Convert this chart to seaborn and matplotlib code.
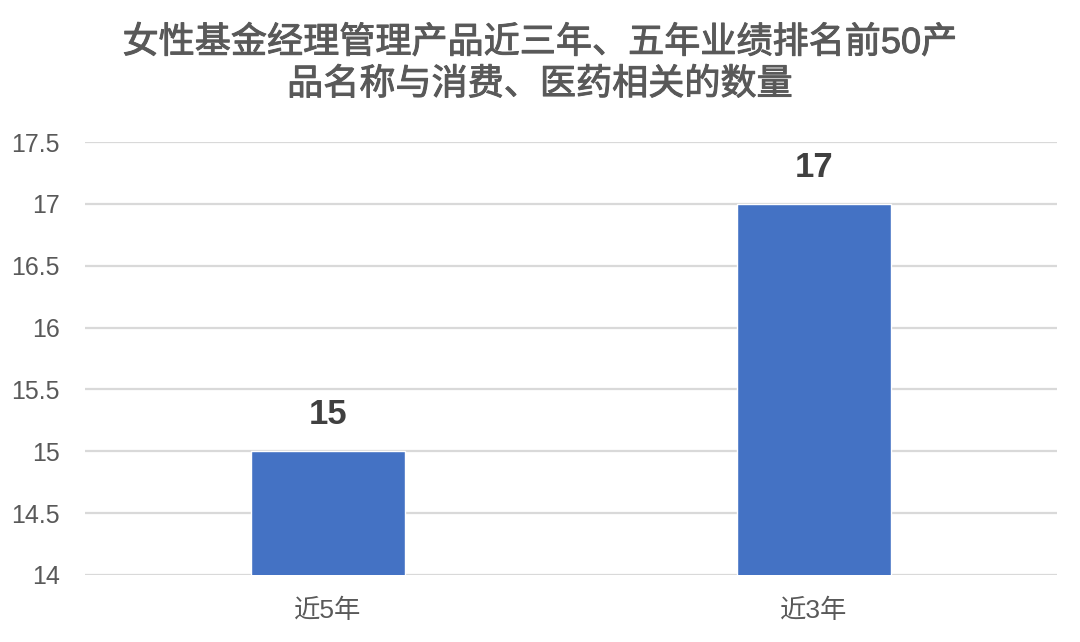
import matplotlib
matplotlib.use("Agg")
import matplotlib.pyplot as plt
import matplotlib.patheffects as pe
import seaborn as sns
import pandas as pd

categories = ["近5年", "近3年"]
values = [15, 17]
title_text = "女性基金经理管理产品近三年、五年业绩排名前50产\n品名称与消费、医药相关的数量"
y_ticks = [14, 14.5, 15, 15.5, 16, 16.5, 17, 17.5]
y_tick_labels = ["14", "14.5", "15", "15.5", "16", "16.5", "17", "17.5"]

sns.set_theme(style="white")
plt.rcParams['font.family'] = ['Liberation Sans', 'Noto Sans CJK SC', 'DejaVu Sans']

df = pd.DataFrame({"cat": categories, "val": values})

fig = plt.figure(figsize=(10.8, 6.42), dpi=100)
ax = fig.add_axes([0.0787, 0.1044, 0.9, 0.6744])

sns.barplot(data=df, x="cat", y="val", color="#4472C4", saturation=1,
            width=0.315, ax=ax, zorder=3)

ax.set_ylim(14, 17.5)
ax.set_xlim(-0.5, 1.5)
ax.set_yticks(y_ticks)
ax.set_yticklabels(y_tick_labels)
ax.yaxis.grid(True, color="#D9D9D9", linewidth=1.6, zorder=0)
ax.set_axisbelow(True)
for s in ax.spines.values():
    s.set_visible(False)
ax.set_xlabel("")
ax.set_ylabel("")
ax.tick_params(axis="y", length=0, pad=18, labelsize=18, labelcolor="#595959")
ax.tick_params(axis="x", length=0, pad=17, labelsize=19, labelcolor="#595959")

for i, v in enumerate(values):
    ax.annotate(f"{v}", xy=(i, v), xytext=(0, 26.5), textcoords="offset points",
                ha="center", va="center", fontsize=25, fontweight="bold",
                color="#404040")

fig.text(0.5, 0.9, title_text, ha="center", va="center", fontsize=26,
         color="#595959", fontweight="normal", linespacing=1.25,
         path_effects=[pe.withStroke(linewidth=0.7, foreground="#595959")])

fig.savefig("out.png", dpi=100, facecolor="white")
